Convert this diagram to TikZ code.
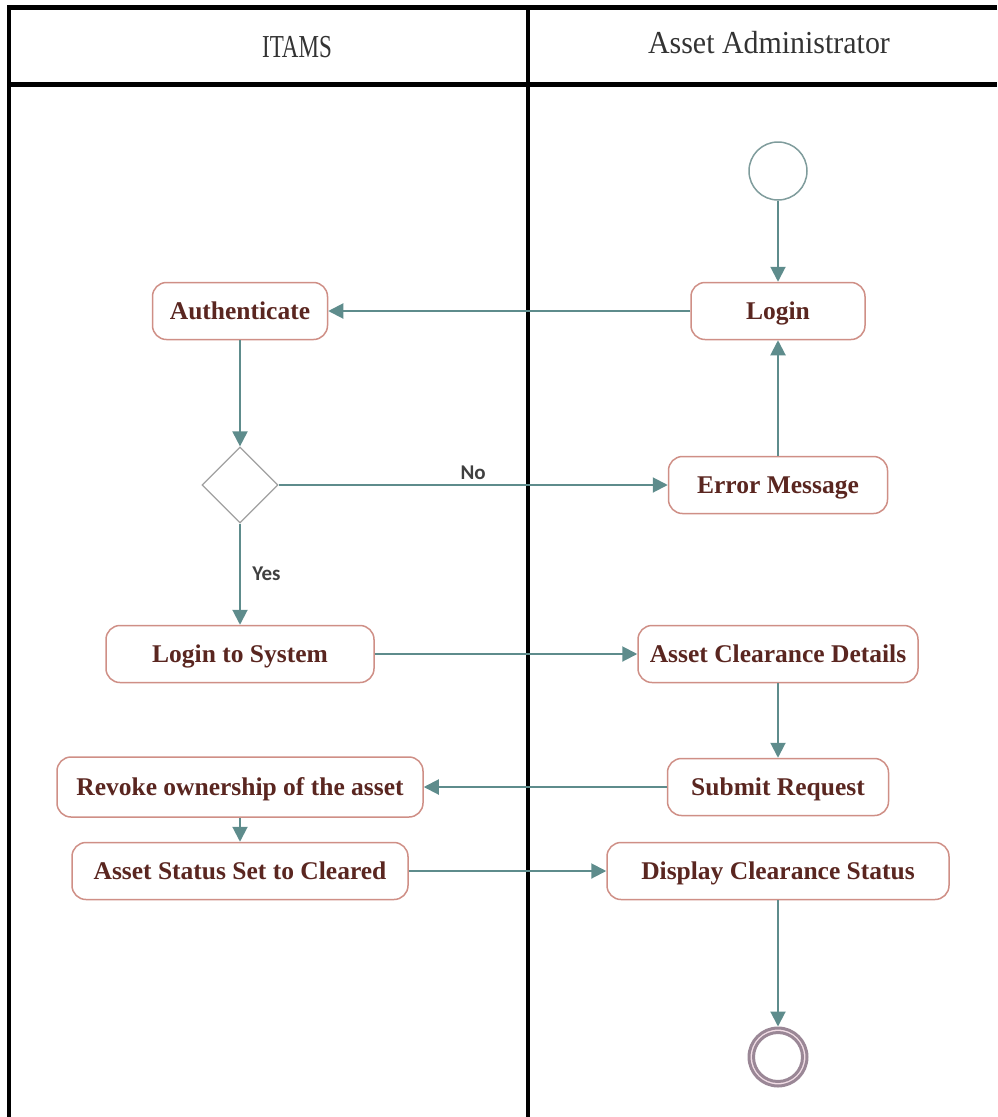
\documentclass[tikz,border=0pt]{standalone}
\usepackage{fontspec}
\setmainfont{Liberation Serif}
\newfontfamily\labelfont{Carlito}
\usetikzlibrary{arrows.meta,shapes.geometric}
\definecolor{flow}{HTML}{5E8C8C}
\definecolor{boxline}{HTML}{CF8F86}
\definecolor{boxtext}{HTML}{5A2620}
\definecolor{headtext}{HTML}{333333}
\definecolor{guardtext}{HTML}{404040}
\definecolor{ringcol}{HTML}{9A8796}
\definecolor{ringgap}{HTML}{F2DDE6}
\definecolor{startcol}{HTML}{7F9C9C}
\definecolor{diamcol}{HTML}{A0A0A0}
\begin{document}
\begin{tikzpicture}[x=1pt,y=-1pt,
  activity/.style={draw=boxline, line width=1.5pt, rounded corners=14pt, fill=white,
    text=boxtext, font=\fontsize{25.5}{28}\selectfont\bfseries, minimum height=57pt,
    inner sep=0pt, text height=16.5pt, text depth=0pt},
  flowline/.style={draw=flow, line width=2pt, -{Triangle[length=15pt,width=15pt]}},
  lane/.style={line width=4.5pt, black},
  guard/.style={font=\labelfont\bfseries\fontsize{21}{24}\selectfont, text=guardtext},
  header/.style={font=\fontsize{32}{36}\selectfont, text=headtext, inner sep=0pt}
]
\useasboundingbox (0,0) rectangle (997,1117);

% swimlane frame
\draw[lane] (9,7.5) -- (997,7.5);
\draw[lane] (9,84.5) -- (997,84.5);
\draw[lane] (9,5) -- (9,1117);
\draw[lane] (528,5) -- (528,1117);

% lane titles
\node[header] (laneA) at (297,47) {\scalebox{0.72}[1]{ITAMS}};
\node[header] (laneB) at (769,43) {\scalebox{0.935}[1]{Asset Administrator}};

% initial node
\node[circle, draw=startcol, line width=1.5pt, minimum size=58pt, inner sep=0pt] (start) at (778,171) {};

% activities
\node[activity, minimum width=174pt] (login) at (778,311) {Login};
\node[activity, minimum width=175pt] (auth) at (240,311) {Authenticate};
\node[diamond, draw=diamcol, line width=1.2pt, minimum width=76pt, minimum height=76pt, inner sep=0pt] (dec) at (240,485) {};
\node[activity, minimum width=219pt] (err) at (778,485) {Error Message};
\node[activity, minimum width=268pt] (sys) at (240,654) {Login to System};
\node[activity, minimum width=280pt] (acd) at (778,654) {Asset Clearance Details};
\node[activity, minimum width=221pt] (sub) at (778,787) {Submit Request};
\node[activity, minimum width=366pt, minimum height=60pt] (rev) at (240,787) {Revoke ownership of the asset};
\node[activity, minimum width=336pt] (stat) at (240,871) {Asset Status Set to Cleared};
\node[activity, minimum width=342pt] (disp) at (778,871) {Display Clearance Status};

% final node
\node[circle, draw=ringcol, line width=3pt, fill=ringgap, minimum size=58pt, inner sep=0pt] (final) at (778,1057) {};
\node[circle, draw=ringcol, line width=3pt, fill=white, minimum size=49pt, inner sep=0pt] (finalin) at (final) {};

% control flows
\draw[flowline] (start) -- (login);
\draw[flowline] (login) -- (auth);
\draw[flowline] (auth) -- (dec);
\draw[flowline] (dec) -- node[guard, above=1pt] {No} (err);
\draw[flowline] (err) -- (login);
\draw[flowline] (dec) -- node[guard, right=8pt] {Yes} (sys);
\draw[flowline] (sys) -- (acd);
\draw[flowline] (acd) -- (sub);
\draw[flowline] (sub) -- (rev);
\draw[flowline] (rev) -- (stat);
\draw[flowline] (stat) -- (disp);
\draw[flowline] (disp) -- (final);
\end{tikzpicture}
\end{document}
